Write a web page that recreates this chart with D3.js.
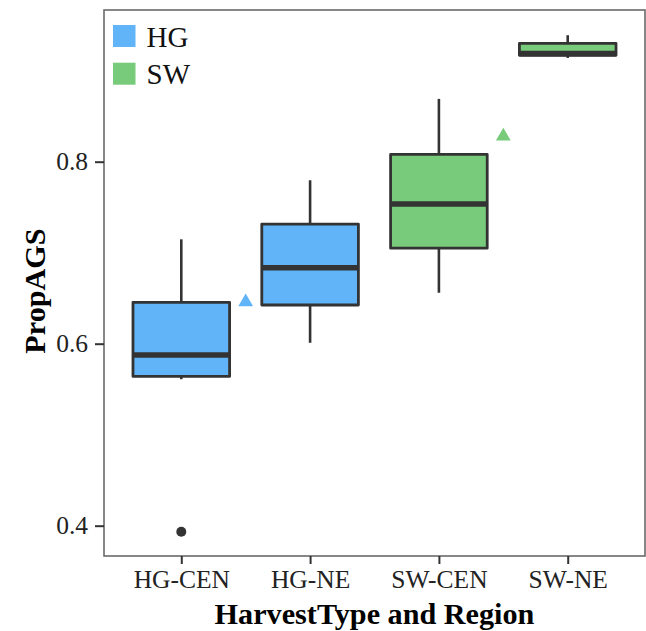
<!DOCTYPE html>
<html>
<head>
<meta charset="utf-8">
<script src="https://cdnjs.cloudflare.com/ajax/libs/d3/7.8.5/d3.min.js"></script>
<style>
  html, body { margin: 0; padding: 0; background: #fff; }
  svg { display: block; }
</style>
</head>
<body>
<svg id="chart" width="646" height="631"></svg>
<script>
// ---- data ----
const categories = ["HG-CEN", "HG-NE", "SW-CEN", "SW-NE"];
const groups = ["HG", "HG", "SW", "SW"];
const whiskerLow = [0.561, 0.601, 0.656, 0.914];
const q1 = [0.564, 0.6425, 0.705, 0.917];
const median = [0.5875, 0.6835, 0.7535, 0.919];
const q3 = [0.6455, 0.7315, 0.808, 0.930];
const whiskerHigh = [0.7147, 0.7796, 0.869, 0.939];
const outlierCats = ["HG-CEN"];
const outlierVals = [0.3934];
const markerCats = ["HG-CEN", "SW-CEN"];
const markerVals = [0.6458, 0.828];
const legendLabels = ["HG", "SW"];
const yTicks = [0.4, 0.6, 0.8];
const yDomain = [0.3667, 0.9667];

const colors = { HG: "#61b4f8", SW: "#78cb7b" };

const svg = d3.select("#chart");
const W = 646, H = 631;
const m = { left: 104, right: 1, top: 10, bottom: 75 };
const x0 = m.left, x1 = W - m.right, y0 = m.top, y1 = H - m.bottom;

const x = d3.scalePoint().domain(categories).range([x0, x1]).padding(0.6);
const step = x.step();
const y = d3.scaleLinear().domain(yDomain).range([y1, y0]);
const boxW = step * 0.75;

const dark = "#333333";
const font = "'Liberation Serif', 'Times New Roman', serif";

const g = svg.append("g");

// boxes
categories.forEach((c, i) => {
  const cx = x(c);
  g.append("line").attr("x1", cx).attr("x2", cx)
    .attr("y1", y(q3[i])).attr("y2", y(whiskerHigh[i]))
    .attr("stroke", dark).attr("stroke-width", 2.6);
  g.append("line").attr("x1", cx).attr("x2", cx)
    .attr("y1", y(q1[i])).attr("y2", y(whiskerLow[i]))
    .attr("stroke", dark).attr("stroke-width", 2.6);
  g.append("rect")
    .attr("x", cx - boxW / 2).attr("width", boxW)
    .attr("y", y(q3[i])).attr("height", y(q1[i]) - y(q3[i]))
    .attr("fill", colors[groups[i]])
    .attr("stroke", dark).attr("stroke-width", 2.8)
    .attr("stroke-linejoin", "round");
  g.append("line")
    .attr("x1", cx - boxW / 2).attr("x2", cx + boxW / 2)
    .attr("y1", y(median[i])).attr("y2", y(median[i]))
    .attr("stroke", dark).attr("stroke-width", 5.5);
});

// outliers
outlierCats.forEach((c, i) => {
  g.append("circle").attr("cx", x(c)).attr("cy", y(outlierVals[i]))
    .attr("r", 5).attr("fill", dark);
});

// triangle markers (offset half a step to the right)
const tri = d3.symbol().type(d3.symbolTriangle).size(95);
markerCats.forEach((c, i) => {
  const gi = categories.indexOf(c);
  g.append("path").attr("d", tri)
    .attr("transform", `translate(${x(c) + step / 2},${y(markerVals[i])})`)
    .attr("fill", colors[groups[gi]]);
});

// panel border
svg.append("rect").attr("x", x0).attr("y", y0)
  .attr("width", x1 - x0).attr("height", y1 - y0)
  .attr("fill", "none").attr("stroke", "#6a6a6a").attr("stroke-width", 1.6);

// y axis
const yAxis = d3.axisLeft(y).tickValues(yTicks).tickFormat(d3.format(".1f"))
  .tickSize(9).tickPadding(7);
const ya = svg.append("g").attr("transform", `translate(${x0},0)`).call(yAxis);
ya.select(".domain").remove();
ya.selectAll(".tick line").attr("stroke", dark).attr("stroke-width", 2);
ya.selectAll(".tick text").attr("font-family", font).attr("font-size", 25.5)
  .attr("fill", "#222");

// x axis
const xAxis = d3.axisBottom(x).tickSize(8).tickPadding(6);
const xa = svg.append("g").attr("transform", `translate(0,${y1})`).call(xAxis);
xa.select(".domain").remove();
xa.selectAll(".tick line").attr("stroke", dark).attr("stroke-width", 2);
xa.selectAll(".tick text").attr("font-family", font).attr("font-size", 25.5)
  .attr("fill", "#222");

// axis titles
svg.append("text").attr("x", (x0 + x1) / 2).attr("y", 624)
  .attr("text-anchor", "middle").attr("font-family", font)
  .attr("font-weight", "bold").attr("font-size", 30.2).attr("fill", "#000")
  .text("HarvestType and Region");
svg.append("text")
  .attr("transform", `translate(45,${(y0 + y1) / 2 + 8}) rotate(-90)`)
  .attr("text-anchor", "middle").attr("font-family", font)
  .attr("font-weight", "bold").attr("font-size", 30.2).attr("fill", "#000")
  .text("PropAGS");

// legend
const leg = svg.append("g").attr("transform", "translate(113,25)");
legendLabels.forEach((lab, i) => {
  const row = leg.append("g").attr("transform", `translate(0,${i * 37.7})`);
  row.append("rect").attr("x", 0).attr("y", 0).attr("width", 22.5).attr("height", 22)
    .attr("fill", colors[lab]);
  row.append("text").attr("x", 33.5).attr("y", 21.5)
    .attr("font-family", font).attr("font-size", 29).attr("fill", "#111")
    .text(lab);
});
</script>
</body>
</html>
